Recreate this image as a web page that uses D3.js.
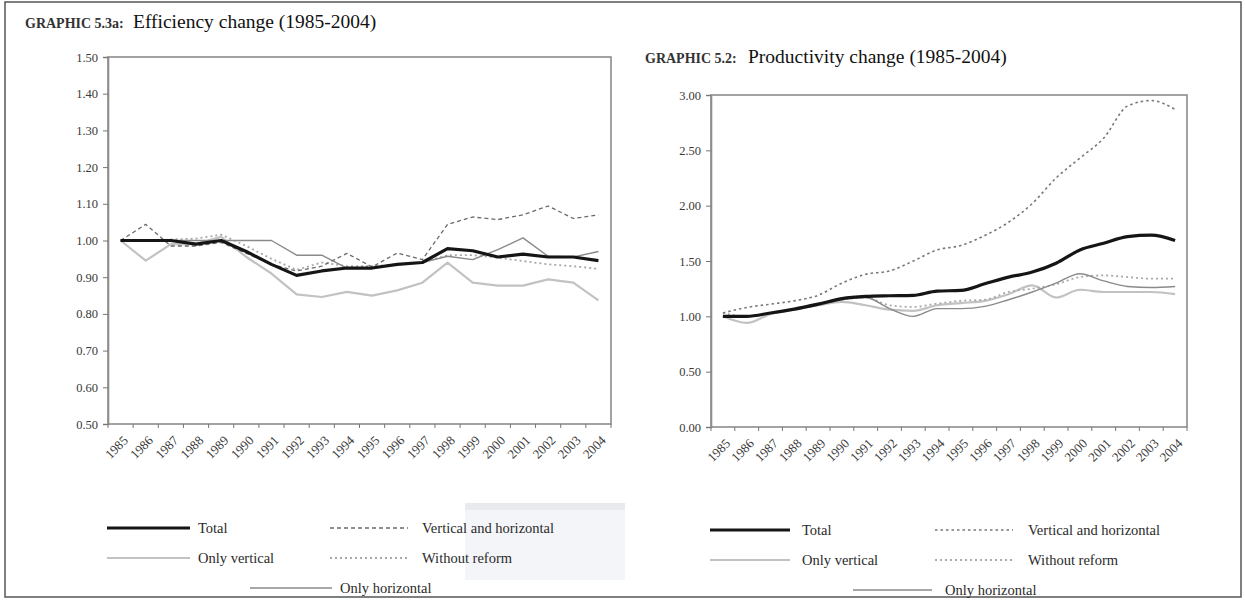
<!DOCTYPE html>
<html><head><meta charset="utf-8">
<script src="https://cdn.jsdelivr.net/npm/d3@7/dist/d3.min.js"></script>
<style>
body{margin:0;background:#fff;}
svg{display:block;font-family:"Liberation Serif","DejaVu Serif",serif;}
</style></head>
<body><svg id="c" width="1245" height="600"></svg>
<script>
const years = ["1985","1986","1987","1988","1989","1990","1991","1992","1993","1994","1995","1996","1997","1998","1999","2000","2001","2002","2003","2004"];

// Efficiency change (left)
const effTotal      = [1.00,1.00,1.00,0.99,1.00,0.97,0.935,0.905,0.917,0.925,0.925,0.935,0.94,0.978,0.972,0.955,0.963,0.955,0.955,0.945];
const effVertical   = [1.00,0.945,0.99,0.99,1.01,0.955,0.91,0.853,0.846,0.86,0.85,0.864,0.885,0.94,0.885,0.877,0.877,0.894,0.885,0.837];
const effVertHoriz  = [1.00,1.044,0.985,0.985,0.995,0.965,0.935,0.917,0.93,0.965,0.928,0.966,0.948,1.044,1.064,1.057,1.07,1.094,1.06,1.07];
const effNoReform   = [1.00,1.00,1.003,1.005,1.016,0.985,0.95,0.92,0.94,0.93,0.93,0.935,0.94,0.96,0.96,0.953,0.944,0.935,0.93,0.923];
const effHorizontal = [1.00,1.00,1.00,1.00,1.00,1.00,1.00,0.96,0.96,0.925,0.925,0.935,0.94,0.957,0.948,0.975,1.007,0.957,0.955,0.97];
const effTicks = [0.50,0.60,0.70,0.80,0.90,1.00,1.10,1.20,1.30,1.40,1.50];

// Productivity change (right)
const prodTotal      = [1.00,1.00,1.03,1.065,1.11,1.16,1.18,1.186,1.19,1.228,1.234,1.294,1.354,1.40,1.48,1.60,1.66,1.72,1.733,1.685];
const prodVertical   = [1.00,0.94,1.02,1.06,1.10,1.13,1.10,1.06,1.05,1.10,1.12,1.14,1.20,1.28,1.17,1.24,1.22,1.22,1.22,1.20];
const prodVertHoriz  = [1.03,1.08,1.11,1.14,1.19,1.30,1.38,1.41,1.50,1.60,1.64,1.73,1.85,2.02,2.25,2.43,2.61,2.90,2.95,2.87];
const prodNoReform   = [1.03,1.00,1.03,1.07,1.11,1.15,1.17,1.10,1.085,1.115,1.14,1.15,1.22,1.25,1.29,1.355,1.37,1.355,1.34,1.34];
const prodHorizontal = [1.00,1.00,1.03,1.07,1.10,1.15,1.17,1.07,1.00,1.07,1.07,1.09,1.15,1.22,1.30,1.385,1.32,1.27,1.26,1.27];
const prodTicks = [0.00,0.50,1.00,1.50,2.00,2.50,3.00];

const stylesLeft = {
  "Total":{stroke:"#151515",width:3.2,dash:null},
  "Only vertical":{stroke:"#c2c2c2",width:2.2,dash:null},
  "Vertical and horizontal":{stroke:"#6a6a6a",width:1.3,dash:"4,3"},
  "Without reform":{stroke:"#a8a8a8",width:1.8,dash:"2,3"},
  "Only horizontal":{stroke:"#8a8a8a",width:1.4,dash:null}
};
const stylesRight = {
  "Total":{stroke:"#151515",width:3.2,dash:null},
  "Only vertical":{stroke:"#c2c2c2",width:2.2,dash:null},
  "Vertical and horizontal":{stroke:"#777",width:1.6,dash:"2.5,3"},
  "Without reform":{stroke:"#aaa",width:1.8,dash:"2,3"},
  "Only horizontal":{stroke:"#8a8a8a",width:1.4,dash:null}
};

const svg = d3.select("#c");

// outer frame
svg.append("rect").attr("x",5).attr("y",2).attr("width",1236).attr("height",595)
  .attr("fill","none").attr("stroke","#555").attr("stroke-width",1.5);

// faint overlay box (artifact in source)
svg.append("rect").attr("x",465).attr("y",503).attr("width",160).attr("height",77).attr("fill","#f4f5f9");
svg.append("rect").attr("x",465).attr("y",503).attr("width",160).attr("height",7).attr("fill","#e9eaed");

function chart(cfg){
  const styles = cfg.styles;
  const g = svg.append("g");
  const x = d3.scaleBand().domain(years).range([cfg.x0,cfg.x1]);
  const y = d3.scaleLinear().domain(cfg.domain).range([cfg.y1,cfg.y0]);
  // frame
  g.append("rect").attr("x",cfg.x0).attr("y",cfg.y0).attr("width",cfg.x1-cfg.x0).attr("height",cfg.y1-cfg.y0)
    .attr("fill","none").attr("stroke","#8c8c8c").attr("stroke-width",1.6);
  // y axis
  const ya = g.append("g").attr("transform",`translate(${cfg.x0},0)`)
    .call(d3.axisLeft(y).tickValues(cfg.ticks).tickFormat(d3.format(".2f")).tickSize(5).tickPadding(5));
  ya.attr("font-family",null);
  ya.select(".domain").attr("stroke","#8c8c8c").attr("stroke-width",1.6);
  ya.selectAll(".tick line").attr("stroke","#777");
  ya.selectAll("text").attr("font-size",12.5).attr("fill","#3a3a3a");
  // x axis: ticks at band boundaries
  const xa = g.append("g").attr("transform",`translate(0,${cfg.y1})`);
  const bounds = years.map(d=>x(d)).concat([x(years[years.length-1])+x.bandwidth()]);
  xa.selectAll("line").data(bounds).join("line")
    .attr("x1",d=>d).attr("x2",d=>d).attr("y1",0).attr("y2",4).attr("stroke","#777");
  xa.selectAll("text").data(years).join("text")
    .attr("transform",d=>`translate(${x(d)+x.bandwidth()/2+5},14) rotate(-45)`)
    .attr("text-anchor","end").attr("dy","0.35em")
    .attr("font-size",13).attr("fill","#3a3a3a").text(d=>d);
  // lines
  const line = d3.line().x((d,i)=>x(years[i])+x.bandwidth()/2).y(d=>y(d)).curve(cfg.curve);
  const order = ["Only vertical","Without reform","Only horizontal","Vertical and horizontal","Total"];
  order.forEach(n=>{
    const s = styles[n];
    g.append("path").datum(cfg.data[n]).attr("d",line).attr("fill","none")
      .attr("stroke",s.stroke).attr("stroke-width",s.width)
      .attr("stroke-dasharray",s.dash).attr("stroke-linejoin","round");
  });
  // titles
  g.append("text").attr("x",cfg.tx).attr("y",cfg.ty).attr("font-size",14).attr("font-weight","bold")
    .attr("fill","#333").text(cfg.label);
  g.append("text").attr("x",cfg.tx2).attr("y",cfg.ty).attr("font-size",19.5).attr("fill","#111").text(cfg.title);
  // legend
  const L = cfg.leg;
  const items = [
    {n:"Total",lx:L.c1,ly:L.r1,tx:L.t1},
    {n:"Vertical and horizontal",lx:L.c2,ly:L.r1,tx:L.t2},
    {n:"Only vertical",lx:L.c1,ly:L.r2,tx:L.t1},
    {n:"Without reform",lx:L.c2,ly:L.r2,tx:L.t2},
    {n:"Only horizontal",lx:L.c3,ly:L.r3,tx:L.t3}
  ];
  items.forEach(it=>{
    const s = styles[it.n];
    g.append("line").attr("x1",it.lx[0]).attr("x2",it.lx[1]).attr("y1",it.ly).attr("y2",it.ly)
      .attr("stroke",s.stroke).attr("stroke-width",s.width).attr("stroke-dasharray",s.dash);
    g.append("text").attr("x",it.tx).attr("y",it.ly+5).attr("font-size",14.5).attr("fill","#2a2a2a").text(it.n);
  });
}

chart({x0:108,x1:611,y0:57,y1:424,domain:[0.5,1.5],ticks:effTicks,curve:d3.curveLinear,styles:stylesLeft,
  data:{"Total":effTotal,"Only vertical":effVertical,"Vertical and horizontal":effVertHoriz,"Without reform":effNoReform,"Only horizontal":effHorizontal},
  tx:25,tx2:133,ty:28,label:"GRAPHIC 5.3a:",title:"Efficiency change (1985-2004)",
  leg:{c1:[107,190],c2:[330,408],c3:[250,332],t1:198,t2:422,t3:340,r1:528,r2:558,r3:588}});

chart({x0:711,x1:1187,y0:95,y1:427,domain:[0,3],ticks:prodTicks,curve:d3.curveMonotoneX,styles:stylesRight,
  data:{"Total":prodTotal,"Only vertical":prodVertical,"Vertical and horizontal":prodVertHoriz,"Without reform":prodNoReform,"Only horizontal":prodHorizontal},
  tx:645,tx2:748,ty:63,label:"GRAPHIC 5.2:",title:"Productivity change (1985-2004)",
  leg:{c1:[710,790],c2:[935,1013],c3:[853,932],t1:802,t2:1028,t3:945,r1:530,r2:560,r3:590}});
</script>
</body></html>
